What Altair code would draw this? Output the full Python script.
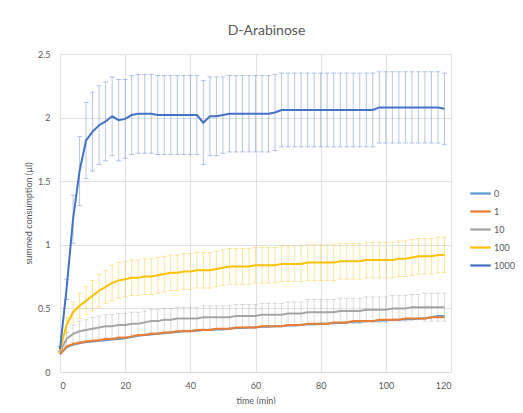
import altair as alt
import pandas as pd

time = list(range(0, 120, 2))

series_names = ["0", "1", "10", "100", "1000"]
colors = ["#5B9BD5", "#ED7D31", "#A5A5A5", "#FFC000", "#4472C4"]

mean_0 = [0.14, 0.195, 0.215, 0.225, 0.235, 0.24, 0.245, 0.25, 0.255, 0.26, 0.265, 0.275, 0.285, 0.29, 0.295, 0.30,
          0.305, 0.31, 0.315, 0.32, 0.32, 0.325, 0.33, 0.33, 0.335, 0.335, 0.34, 0.345, 0.345, 0.35, 0.35, 0.355,
          0.355, 0.36, 0.36, 0.365, 0.365, 0.37, 0.375, 0.375, 0.38, 0.38, 0.385, 0.385, 0.39, 0.395, 0.395, 0.40,
          0.40, 0.405, 0.405, 0.41, 0.41, 0.415, 0.415, 0.42, 0.42, 0.43, 0.44, 0.44]
mean_1 = [0.14, 0.20, 0.22, 0.23, 0.24, 0.245, 0.25, 0.26, 0.26, 0.27, 0.27, 0.28, 0.29, 0.29, 0.30, 0.30,
          0.31, 0.31, 0.32, 0.32, 0.32, 0.33, 0.33, 0.33, 0.34, 0.34, 0.34, 0.35, 0.35, 0.35, 0.35, 0.36,
          0.36, 0.36, 0.36, 0.37, 0.37, 0.37, 0.38, 0.38, 0.38, 0.38, 0.39, 0.39, 0.39, 0.40, 0.40, 0.40,
          0.40, 0.41, 0.41, 0.41, 0.41, 0.42, 0.42, 0.42, 0.42, 0.43, 0.43, 0.43]
mean_10 = [0.16, 0.26, 0.30, 0.32, 0.33, 0.34, 0.35, 0.36, 0.36, 0.37, 0.37, 0.38, 0.38, 0.39, 0.40, 0.40,
           0.41, 0.41, 0.42, 0.42, 0.42, 0.42, 0.43, 0.43, 0.43, 0.43, 0.43, 0.44, 0.44, 0.44, 0.44, 0.45,
           0.45, 0.45, 0.45, 0.46, 0.46, 0.46, 0.47, 0.47, 0.47, 0.47, 0.47, 0.48, 0.48, 0.48, 0.48, 0.49,
           0.49, 0.49, 0.49, 0.50, 0.50, 0.50, 0.51, 0.51, 0.51, 0.51, 0.51, 0.51]
mean_100 = [0.17, 0.37, 0.47, 0.52, 0.56, 0.60, 0.64, 0.67, 0.70, 0.72, 0.73, 0.74, 0.74, 0.75, 0.75, 0.76,
            0.77, 0.78, 0.78, 0.79, 0.79, 0.80, 0.80, 0.80, 0.81, 0.82, 0.83, 0.83, 0.83, 0.83, 0.84, 0.84,
            0.84, 0.84, 0.85, 0.85, 0.85, 0.85, 0.86, 0.86, 0.86, 0.86, 0.86, 0.87, 0.87, 0.87, 0.87, 0.88,
            0.88, 0.88, 0.88, 0.88, 0.89, 0.89, 0.90, 0.91, 0.91, 0.91, 0.92, 0.92]
mean_1000 = [0.18, 0.65, 1.20, 1.58, 1.82, 1.89, 1.94, 1.97, 2.01, 1.98, 1.99, 2.02, 2.03, 2.03, 2.03, 2.02,
             2.02, 2.02, 2.02, 2.02, 2.02, 2.02, 1.96, 2.01, 2.01, 2.02, 2.03, 2.03, 2.03, 2.03, 2.03, 2.03,
             2.03, 2.04, 2.06, 2.06, 2.06, 2.06, 2.06, 2.06, 2.06, 2.06, 2.06, 2.06, 2.06, 2.06, 2.06, 2.06,
             2.06, 2.08, 2.08, 2.08, 2.08, 2.08, 2.08, 2.08, 2.08, 2.08, 2.08, 2.07]

err_10 = [0.01, 0.05, 0.07, 0.08, 0.08, 0.09, 0.09, 0.09, 0.09, 0.09, 0.09, 0.09, 0.09, 0.09, 0.09, 0.09,
          0.09, 0.09, 0.09, 0.09, 0.09, 0.09, 0.09, 0.09, 0.09, 0.09, 0.09, 0.09, 0.09, 0.09, 0.09, 0.09,
          0.09, 0.09, 0.09, 0.09, 0.09, 0.09, 0.10, 0.10, 0.10, 0.10, 0.10, 0.10, 0.10, 0.10, 0.10, 0.10,
          0.10, 0.10, 0.10, 0.10, 0.10, 0.10, 0.10, 0.10, 0.11, 0.11, 0.11, 0.11]
err_100 = [0.02, 0.06, 0.08, 0.10, 0.11, 0.12, 0.13, 0.13, 0.14, 0.14, 0.14, 0.14, 0.14, 0.14, 0.14, 0.14,
           0.14, 0.14, 0.14, 0.14, 0.14, 0.14, 0.14, 0.14, 0.14, 0.14, 0.14, 0.14, 0.14, 0.14, 0.14, 0.14,
           0.14, 0.14, 0.14, 0.14, 0.14, 0.14, 0.14, 0.14, 0.14, 0.14, 0.14, 0.14, 0.14, 0.14, 0.14, 0.14,
           0.14, 0.14, 0.14, 0.14, 0.14, 0.14, 0.14, 0.14, 0.14, 0.14, 0.14, 0.14]
err_1000 = [0.02, 0.08, 0.19, 0.27, 0.30, 0.31, 0.31, 0.31, 0.31, 0.32, 0.31, 0.31, 0.31, 0.31, 0.31, 0.31,
            0.31, 0.31, 0.31, 0.31, 0.31, 0.31, 0.33, 0.31, 0.31, 0.30, 0.30, 0.30, 0.30, 0.30, 0.30, 0.30,
            0.30, 0.30, 0.29, 0.29, 0.29, 0.29, 0.29, 0.29, 0.29, 0.29, 0.29, 0.29, 0.29, 0.29, 0.29, 0.29,
            0.29, 0.28, 0.28, 0.28, 0.28, 0.28, 0.28, 0.28, 0.28, 0.28, 0.28, 0.28]

means = [mean_0, mean_1, mean_10, mean_100, mean_1000]
errs = [None, None, err_10, err_100, err_1000]

rows = []
err_rows = []
for name, m, e in zip(series_names, means, errs):
    for i, t in enumerate(time):
        rows.append({"series": name, "time": t, "value": m[i]})
        if e is not None:
            err_rows.append({"series": name, "time": t, "lo": m[i] - e[i], "hi": m[i] + e[i]})

df = pd.DataFrame(rows)
edf = pd.DataFrame(err_rows)

FONT = "Lato"
TXT = "#595959"

x_scale = alt.Scale(domain=[0, 120], nice=False, zero=True)
y_scale = alt.Scale(domain=[0, 2.5], nice=False)
color_scale = alt.Scale(domain=series_names, range=colors)

legend = alt.Legend(title=None, orient="none", legendX=409, legendY=128,
                    symbolType="stroke", symbolSize=420, symbolStrokeWidth=2.25,
                    symbolOpacity=1,
                    labelFontSize=9, labelColor=TXT, labelFont=FONT,
                    rowPadding=1, labelOffset=2)
color_enc = alt.Color("series:N", scale=color_scale, legend=legend)

x_enc = alt.X("time:Q", scale=x_scale,
              axis=alt.Axis(title="time (min)", values=[0, 20, 40, 60, 80, 100, 120],
                            labelPadding=9, titlePadding=6))
y_enc = alt.Y("value:Q", scale=y_scale,
              axis=alt.Axis(title="summed consumption (µl)", values=[0, 0.5, 1, 1.5, 2, 2.5],
                            format="~g", labelPadding=10, titlePadding=4, domain=False))

bars = alt.Chart(edf).mark_rule(strokeWidth=0.8, opacity=0.5).encode(
    x="time:Q", y="lo:Q", y2="hi:Q", color=color_enc,
)
caps_hi = alt.Chart(edf).mark_tick(orient="horizontal", size=5, thickness=0.8, opacity=0.5).encode(
    x="time:Q", y="hi:Q", color=color_enc,
)
caps_lo = alt.Chart(edf).mark_tick(orient="horizontal", size=5, thickness=0.8, opacity=0.5).encode(
    x="time:Q", y="lo:Q", color=color_enc,
)

lines = alt.Chart(df).mark_line(strokeWidth=2).encode(
    x=x_enc, y=y_enc, color=color_enc, detail="series:N",
)

chart = alt.layer(bars, caps_hi, caps_lo, lines).properties(
    width=391, height=318,
    title=alt.TitleParams("D-Arabinose", fontSize=14, font=FONT, color=TXT, fontWeight="normal",
                          anchor="middle", dx=11, offset=12),
    padding={"left": 52, "top": 46, "right": 64, "bottom": 32},
    autosize="none",
).configure_axis(
    gridColor="#d9d9d9", gridWidth=0.8, domainColor="#d9d9d9", ticks=False,
    labelColor=TXT, labelFont=FONT, labelFontSize=9,
    titleColor=TXT, titleFont=FONT, titleFontSize=9, titleFontWeight="normal",
).configure_view(stroke=None)

chart.save("out.html", embed_options={"renderer": "svg", "actions": False})
